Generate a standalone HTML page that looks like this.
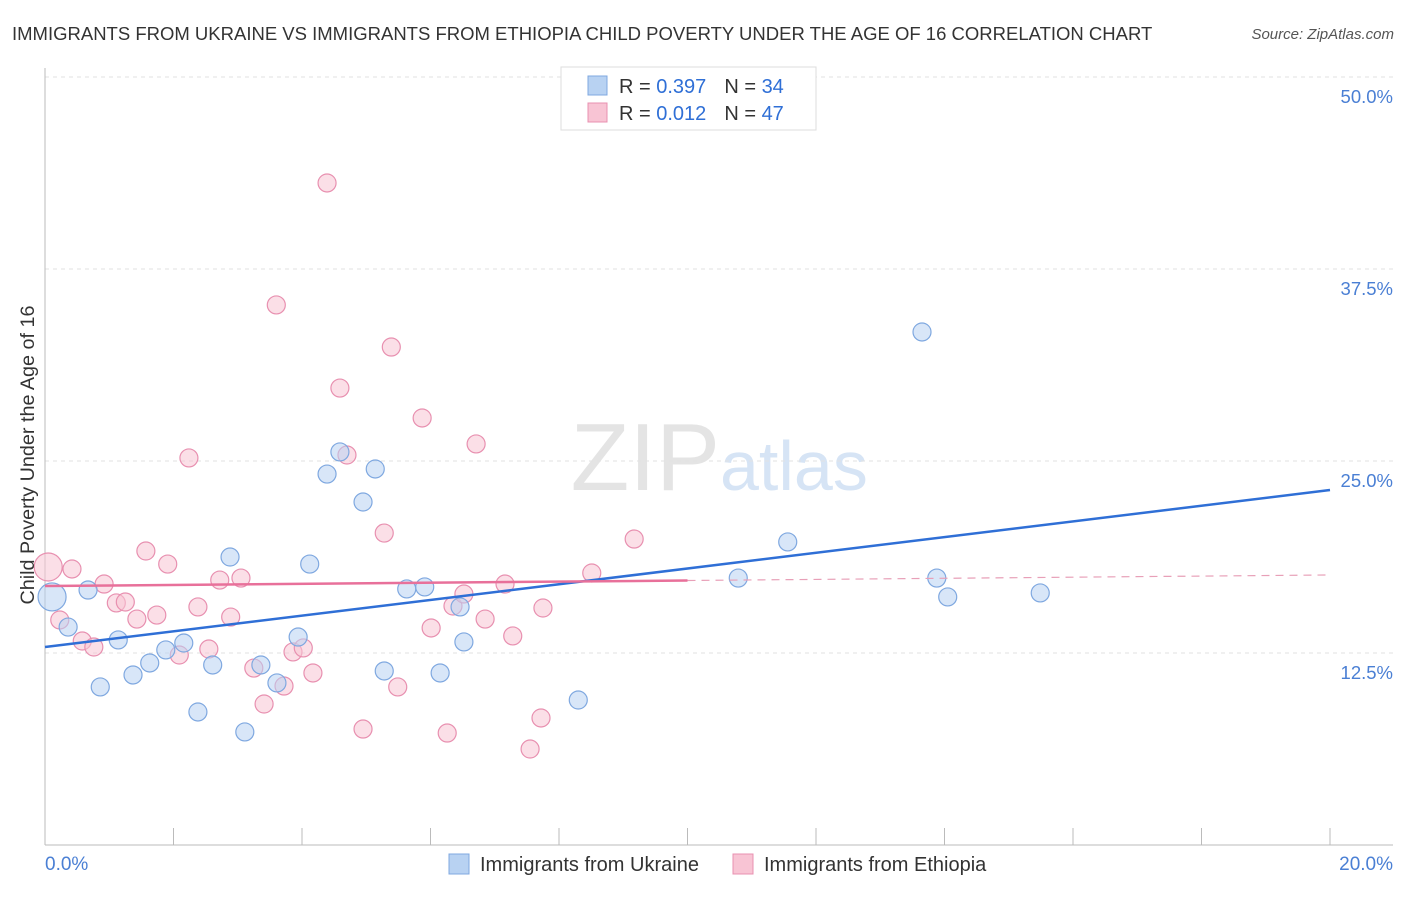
<!DOCTYPE html>
<html><head><meta charset="utf-8">
<style>
body{margin:0;background:#fff;font-family:"Liberation Sans",sans-serif;}
svg text{font-family:"Liberation Sans",sans-serif;}
</style></head>
<body>
<svg width="1406" height="892" viewBox="0 0 1406 892">
<text x="12" y="40" font-size="18.5" fill="#333">IMMIGRANTS FROM UKRAINE VS IMMIGRANTS FROM ETHIOPIA CHILD POVERTY UNDER THE AGE OF 16 CORRELATION CHART</text>
<text x="1394" y="39" font-size="15" fill="#555" font-style="italic" text-anchor="end">Source: ZipAtlas.com</text>
<text x="720" y="490" font-size="96" fill="#e4e4e4" text-anchor="end" font-family="Liberation Serif">ZIP</text>
<text x="720" y="490" font-size="70" fill="#d6e4f5">atlas</text>
<g id="grid"></g>
<g id="axes"></g>
<g id="marks"></g>
<text transform="translate(34,455) rotate(-90)" font-size="19.8" fill="#333" text-anchor="middle">Child Poverty Under the Age of 16</text>
<text x="45" y="870" font-size="19" fill="#4a7fd4">0.0%</text>
<text x="1393" y="870" font-size="19" fill="#4a7fd4" text-anchor="end">20.0%</text>
<g>
<rect x="561" y="67" width="255" height="63" fill="#fff" stroke="#ddd"/>
<rect x="588" y="76" width="19" height="19" fill="#b8d2f2" stroke="#7fa8e0"/>
<rect x="588" y="103" width="19" height="19" fill="#f8c4d4" stroke="#e890b0"/>
<text x="619" y="93" font-size="20" fill="#333">R = <tspan fill="#2f6fd6">0.397</tspan><tspan dx="18">N = </tspan><tspan fill="#2f6fd6">34</tspan></text>
<text x="619" y="120" font-size="20" fill="#333">R = <tspan fill="#2f6fd6">0.012</tspan><tspan dx="18">N = </tspan><tspan fill="#2f6fd6">47</tspan></text>
</g>
<g>
<rect x="449" y="854" width="20" height="20" fill="#b8d2f2" stroke="#7fa8e0"/>
<text x="480" y="871" font-size="20" fill="#333">Immigrants from Ukraine</text>
<rect x="733" y="854" width="20" height="20" fill="#f8c4d4" stroke="#e890b0"/>
<text x="764" y="871" font-size="20" fill="#333">Immigrants from Ethiopia</text>
</g>
</svg>
<script>
const yTicks=[12.5,25,37.5,50];
const yTickLabels=["12.5%","25.0%","37.5%","50.0%"];
const xTicks=[0,2,4,6,8,10,12,14,16,18,20];
const ukraineX=[0.11,0.36,0.67,0.86,1.14,1.37,1.63,1.88,2.16,2.38,2.61,2.88,3.11,3.36,3.61,3.94,4.12,4.39,4.59,4.95,5.14,5.28,5.63,5.91,6.15,6.46,6.52,8.30,10.79,11.56,13.65,13.88,14.05,15.49];
const ukraineY=[16.28,14.32,16.73,10.42,13.48,11.20,11.98,12.83,13.28,8.79,11.85,18.88,7.49,11.85,10.68,13.67,18.42,24.28,25.72,22.46,24.61,11.46,16.80,16.93,11.33,15.63,13.35,9.57,17.51,19.86,33.53,17.51,16.28,16.54];
const ukraineSize=[14,9,9,9,9,9,9,9,9,9,9,9,9,9,9,9,9,9,9,9,9,9,9,9,9,9,9,9,9,9,9,9,9,9];
const ethiopiaX=[0.05,0.23,0.42,0.58,0.76,0.92,1.11,1.25,1.43,1.57,1.74,1.91,2.09,2.24,2.38,2.55,2.72,2.89,3.05,3.25,3.41,3.60,3.72,3.86,4.02,4.17,4.39,4.59,4.70,4.95,5.28,5.39,5.49,5.87,6.01,6.26,6.35,6.52,6.71,6.85,7.16,7.28,7.55,7.72,7.75,8.51,9.17];
const ethiopiaY=[18.23,14.78,18.10,13.41,13.02,17.12,15.89,15.95,14.84,19.27,15.10,18.42,12.50,25.33,15.63,12.89,17.38,14.97,17.51,11.65,9.31,35.29,10.48,12.70,12.96,11.33,43.23,29.88,25.52,7.68,20.44,32.55,10.42,27.93,14.26,7.42,15.69,16.47,26.24,14.84,17.12,13.74,6.38,8.40,15.56,17.84,20.05];
const ukraineTrend=[13.02,23.24]; // y at x=0 and x=20
const ethiopiaTrend=[16.99,17.71];
const ethiopiaSolidEnd=10;

const X=v=>45+v*64.25, Y=v=>847-v*15.36;
const NS="http://www.w3.org/2000/svg";
function mk(t,a,p){const e=document.createElementNS(NS,t);for(const k in a)e.setAttribute(k,a[k]);p.appendChild(e);return e;}
const grid=document.getElementById('grid'),axes=document.getElementById('axes'),marks=document.getElementById('marks');
yTicks.forEach((t,i)=>{
 const l=mk('line',{x1:45,x2:1393,y1:Y(t)-2,y2:Y(t)-2,stroke:'#e2e2e2','stroke-dasharray':'4,4'},grid);
 
 
 const tx=mk('text',{x:1393,y:Y(t)+24,'font-size':18.5,fill:'#4a7fd4','text-anchor':'end'},axes);
 tx.textContent=yTickLabels[i];
 
 
});
const ax=mk('line',{x1:45,x2:45,y1:68,y2:845,stroke:'#bbb'},axes);


const bx=mk('line',{x1:45,x2:1393,y1:845,y2:845,stroke:'#bbb'},axes);


xTicks.forEach(t=>{
 const l=mk('line',{x1:X(t),x2:X(t),y1:828,y2:845,stroke:'#bbb'},axes);
 
 
});
function pts(xs,ys,sz,fill,stroke,name){
 xs.forEach((x,i)=>{
  const c=mk('circle',{cx:X(x),cy:Y(ys[i]),r:sz?sz[i]:9,fill:fill,'fill-opacity':0.55,stroke:stroke,'stroke-width':1.2},marks);
  
  
 });
}
const ethSize=ethiopiaX.map((_,i)=>i===0?14:9);
pts(ethiopiaX,ethiopiaY,ethSize,'#f8c4d4','#e890b0','ethiopia-point');
pts(ukraineX,ukraineY,ukraineSize,'#b8d2f2','#7fa8e0','ukraine-point');
const ut=mk('line',{x1:X(0),y1:Y(ukraineTrend[0]),x2:X(20),y2:Y(ukraineTrend[1]),stroke:'#2f6fd6','stroke-width':2.5},marks);


const ey=x=>ethiopiaTrend[0]+(ethiopiaTrend[1]-ethiopiaTrend[0])*x/20;
const es=mk('line',{x1:X(0),y1:Y(ey(0)),x2:X(ethiopiaSolidEnd),y2:Y(ey(ethiopiaSolidEnd)),stroke:'#e8709a','stroke-width':2.5},marks);


const ed=mk('line',{x1:X(ethiopiaSolidEnd),y1:Y(ey(ethiopiaSolidEnd)),x2:X(20),y2:Y(ey(20)),stroke:'#e8a0b8','stroke-width':1.2,'stroke-dasharray':'8,6'},marks);


</script>
</body></html>
